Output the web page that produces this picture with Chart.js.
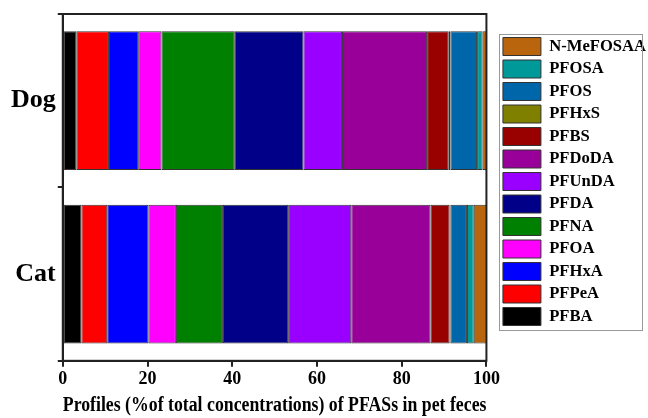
<!DOCTYPE html>
<html>
<head>
<meta charset="utf-8">
<script src="https://cdn.jsdelivr.net/npm/chart.js@4"></script>
<style>
  html, body { margin: 0; padding: 0; background: #fff; }
</style>
</head>
<body>
<canvas id="pfasChart" width="648" height="418"></canvas>
<script>
// Stacked profile of PFASs in pet feces (% of total)
const categories = ["Dog", "Cat"];
const compounds = ["PFBA", "PFPeA", "PFHxA", "PFOA", "PFNA", "PFDA", "PFUnDA",
  "PFDoDA", "PFBS", "PFHxS", "PFOS", "PFOSA", "N-MeFOSAA"];
const dogValues = [3.2, 7.7, 6.9, 5.5, 17.3, 16.2, 9.1, 20.1, 5.1, 0.4, 6.3, 1.3, 0.9];
const catValues = [4.4, 6.1, 9.7, 6.5, 11.1, 15.4, 14.9, 18.7, 4.5, 0.2, 3.9, 1.6, 3.0];
const colors = ["#000000", "#ff0000", "#0000ff", "#ff00ff", "#008000", "#000088",
  "#9900ff", "#990099", "#990000", "#808000", "#0066aa", "#009999", "#b8650e"];
const xTicks = [0, 20, 40, 60, 80, 100];

const serif = "'Liberation Serif', 'DejaVu Serif', serif";

const datasets = compounds.map((name, i) => ({
  label: name,
  data: [dogValues[i], catValues[i]],
  backgroundColor: colors[i],
  borderColor: "#333333",
  borderWidth: 1,
  borderSkipped: false,
}));

// move legend a bit away from the plot and draw frames
const framePlugin = {
  id: "frame",
  afterLayout(chart) {
    const lg = chart.legend;
    if (!lg) return;
    lg.left = chart.chartArea.right + 12;
    lg.right = lg.left + lg.width;
    lg.top = 33;
    lg.bottom = lg.top + lg.height;
  },
  afterDraw(chart) {
    const { ctx, chartArea: a, legend } = chart;
    ctx.save();
    ctx.strokeStyle = "#222";
    ctx.lineWidth = 2;
    ctx.strokeRect(a.left, a.top, a.right - a.left, a.bottom - a.top);
    if (legend && legend.legendHitBoxes.length) {
      const boxes = legend.legendHitBoxes;
      const first = boxes[0];
      const last = boxes[boxes.length - 1];
      const left = Math.round(first.left - 4) + 0.5;
      const top = Math.round(first.top - 4) + 0.5;
      const bottom = Math.round(last.top + last.height + 4) + 0.5;
      ctx.lineWidth = 1;
      ctx.strokeStyle = "#999";
      ctx.strokeRect(left, top, 642.5 - left, bottom - top);
    }
    ctx.restore();
  },
};

new Chart(document.getElementById("pfasChart"), {
  type: "bar",
  data: { labels: categories, datasets: datasets },
  plugins: [framePlugin],
  options: {
    indexAxis: "y",
    responsive: false,
    animation: false,
    layout: { padding: { top: 14, right: 4, left: 9, bottom: 0 } },
    datasets: { bar: { categoryPercentage: 1.0, barPercentage: 0.8 } },
    scales: {
      x: {
        stacked: true,
        min: 0,
        max: 100,
        afterBuildTicks: (scale) => { scale.ticks = xTicks.map((v) => ({ value: v })); },
        grid: { drawOnChartArea: false, drawTicks: true, tickLength: 6, color: "#222", lineWidth: 2 },
        border: { display: true, color: "#222", width: 2 },
        ticks: { color: "#000", font: { family: serif, size: 18, weight: "bold" }, padding: 2, maxRotation: 0 },
        title: {
          display: true,
          text: "Profiles (%of total concentrations) of PFASs in pet feces",
          color: "#000",
          font: { family: serif, size: 20.5, weight: "bold" },
          padding: { top: 1, bottom: 0 },
        },
      },
      y: {
        stacked: true,
        afterFit: (scale) => { scale.paddingTop = 0; scale.paddingBottom = 0; },
        grid: { drawOnChartArea: false, drawTicks: true, tickLength: 5, color: "#222", lineWidth: 2, offset: true },
        border: { display: true, color: "#222", width: 2 },
        ticks: { color: "#000", font: { family: serif, size: 26, weight: "bold" }, padding: 2 },
      },
    },
    plugins: {
      legend: {
        position: "right",
        align: "start",
        reverse: true,
        labels: {
          color: "#000",
          boxWidth: 38,
          boxHeight: 18,
          padding: 4.5,
          font: { family: serif, size: 16.6, weight: "bold" },
        },
      },
      tooltip: { enabled: false },
    },
  },
});
</script>
</body>
</html>
